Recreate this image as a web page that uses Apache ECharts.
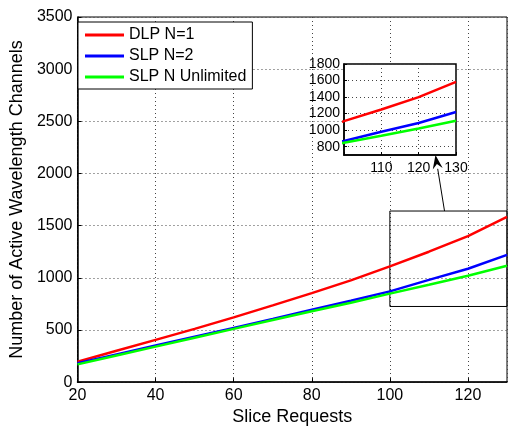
<!DOCTYPE html>
<html>
<head>
<meta charset="utf-8">
<script src="https://cdn.jsdelivr.net/npm/echarts@6/dist/echarts.min.js"></script>
<style>
  html, body { margin: 0; padding: 0; background: #fff; }
  #chart { width: 508px; height: 431px; }
</style>
</head>
<body>
<div id="chart"></div>
<script>
const FONT = 'Liberation Sans, Arial, sans-serif';

// data
const requests = [20, 30, 40, 50, 60, 70, 80, 90, 100, 110, 120, 130];
const dlpN1 = [195, 300, 405, 510, 620, 735, 853, 975, 1110, 1250, 1400, 1585];
const slpN2 = [180, 265, 350, 435, 520, 605, 695, 780, 870, 980, 1087, 1220];
const slpUnlimited = [170, 255, 340, 425, 510, 595, 680, 760, 848, 933, 1020, 1115];

const seriesNames = ['DLP N=1', 'SLP N=2', 'SLP N Unlimited'];
const seriesColors = ['#ff0000', '#0000ff', '#00ff00'];
const seriesValues = [dlpN1, slpN2, slpUnlimited];

// zoom window (main plot rectangle) and inset ticks
const zoomX = [100, 130];
const zoomY = [725, 1640];
const insetYTicks = [800, 1000, 1200, 1400, 1600, 1800];
const arrowFrom = [114, 1640];   // on main plot
const arrowTo = [124.5, 700];    // on inset

let chart = echarts.init(document.getElementById('chart'));

const dotted = { color: '#444', type: [1, 3], width: 1 };
const plain = v => String(v);

const mainSeries = seriesValues.map((vals, i) => ({
  name: seriesNames[i],
  type: 'line',
  xAxisIndex: 0,
  yAxisIndex: 0,
  symbol: 'none',
  z: 3,
  lineStyle: { color: seriesColors[i], width: 2.5 },
  itemStyle: { color: seriesColors[i] },
  data: requests.map((x, k) => [x, vals[k]])
}));

mainSeries[0].markArea = {
  silent: true,
  itemStyle: { color: 'rgba(0,0,0,0)', borderColor: '#000', borderWidth: 1 },
  data: [[{ xAxis: zoomX[0], yAxis: zoomY[0] }, { xAxis: zoomX[1], yAxis: zoomY[1] }]]
};

const insetSeries = seriesValues.map((vals, i) => ({
  name: seriesNames[i],
  type: 'line',
  xAxisIndex: 1,
  yAxisIndex: 1,
  symbol: 'none',
  z: 6,
  lineStyle: { color: seriesColors[i], width: 2.5 },
  itemStyle: { color: seriesColors[i] },
  data: requests.map((x, k) => [x, vals[k]])
}));

const option = {
  animation: false,
  textStyle: { fontFamily: FONT },
  legend: {
    data: seriesNames,
    orient: 'vertical',
    left: 78,
    top: 22,
    icon: 'rect',
    itemWidth: 39,
    itemHeight: 3,
    itemGap: 3,
    padding: [4, 6, 3, 7],
    backgroundColor: '#fff',
    borderColor: '#000',
    borderWidth: 1,
    textStyle: { fontSize: 16, color: '#000', fontFamily: FONT, lineHeight: 18 }
  },
  grid: [
    { left: 73, top: 17, right: 1, bottom: 42, show: true, borderColor: '#000', borderWidth: 1, backgroundColor: '#fff' },
    { left: 344, top: 64, width: 112, height: 91, show: true, borderColor: '#000', borderWidth: 1.5, backgroundColor: '#fff', z: 5 }
  ],
  xAxis: [
    {
      gridIndex: 0, type: 'value', min: 20, max: 130, interval: 20,
      name: 'Slice Requests', nameLocation: 'middle', nameGap: 21,
      nameTextStyle: { fontSize: 18, color: '#000', fontFamily: FONT },
      axisLine: { lineStyle: { color: '#000', width: 1.5 } },
      axisTick: { inside: true, length: 4, lineStyle: { color: '#000' } },
      axisLabel: { fontSize: 16, color: '#000', margin: 5, fontFamily: FONT, showMaxLabel: false, formatter: plain },
      splitLine: { show: true, lineStyle: dotted }
    },
    {
      gridIndex: 1, type: 'value', min: zoomX[0], max: zoomX[1], interval: 10,
      z: 6,
      axisLine: { lineStyle: { color: '#000', width: 1.5 } },
      axisTick: { inside: true, length: 3, lineStyle: { color: '#000' } },
      axisLabel: {
        fontSize: 14, color: '#000', margin: 6, fontFamily: FONT,
        formatter: v => (v === zoomX[0] ? '' : String(v))
      },
      splitLine: { show: true, lineStyle: dotted }
    }
  ],
  yAxis: [
    {
      gridIndex: 0, type: 'value', min: 0, max: 3500, interval: 500,
      name: 'Number of Active Wavelength Channels', nameLocation: 'middle', nameGap: 46,
      nameTextStyle: { fontSize: 18, color: '#000', fontFamily: FONT },
      axisLine: { lineStyle: { color: '#000', width: 1.5 } },
      axisTick: { inside: true, length: 4, lineStyle: { color: '#000' } },
      axisLabel: { fontSize: 16, color: '#000', margin: 5, fontFamily: FONT, formatter: plain },
      splitLine: { show: true, lineStyle: dotted }
    },
    {
      gridIndex: 1, type: 'value', min: 700, max: 1800,
      z: 6,
      axisLine: { lineStyle: { color: '#000', width: 1.5 } },
      axisTick: { inside: true, length: 3, customValues: insetYTicks, lineStyle: { color: '#000' } },
      axisLabel: { fontSize: 14, color: '#000', margin: 4, fontFamily: FONT, customValues: insetYTicks, formatter: plain },
      splitLine: { show: true, lineStyle: dotted }
    }
  ],
  series: mainSeries.concat(insetSeries)
};

chart.setOption(option);

// arrow from the zoom rectangle to the inset
const p0 = chart.convertToPixel({ gridIndex: 0 }, arrowFrom);
const p1 = chart.convertToPixel({ gridIndex: 1 }, arrowTo);
const ang = Math.atan2(p1[1] - p0[1], p1[0] - p0[0]);
const headLen = 14, headW = 5;
const bx = p1[0] - headLen * Math.cos(ang), by = p1[1] - headLen * Math.sin(ang);
const nx = -Math.sin(ang) * headW, ny = Math.cos(ang) * headW;
chart.setOption({
  graphic: [
    { type: 'line', z: 100, shape: { x1: p0[0], y1: p0[1], x2: bx, y2: by }, style: { stroke: '#000', lineWidth: 1 } },
    {
      type: 'polygon', z: 100,
      shape: { points: [[p1[0], p1[1]], [bx + nx, by + ny], [bx + 0.35 * (p1[0] - bx), by + 0.35 * (p1[1] - by)], [bx - nx, by - ny]] },
      style: { fill: '#000' }
    }
  ]
});
</script>
</body>
</html>
